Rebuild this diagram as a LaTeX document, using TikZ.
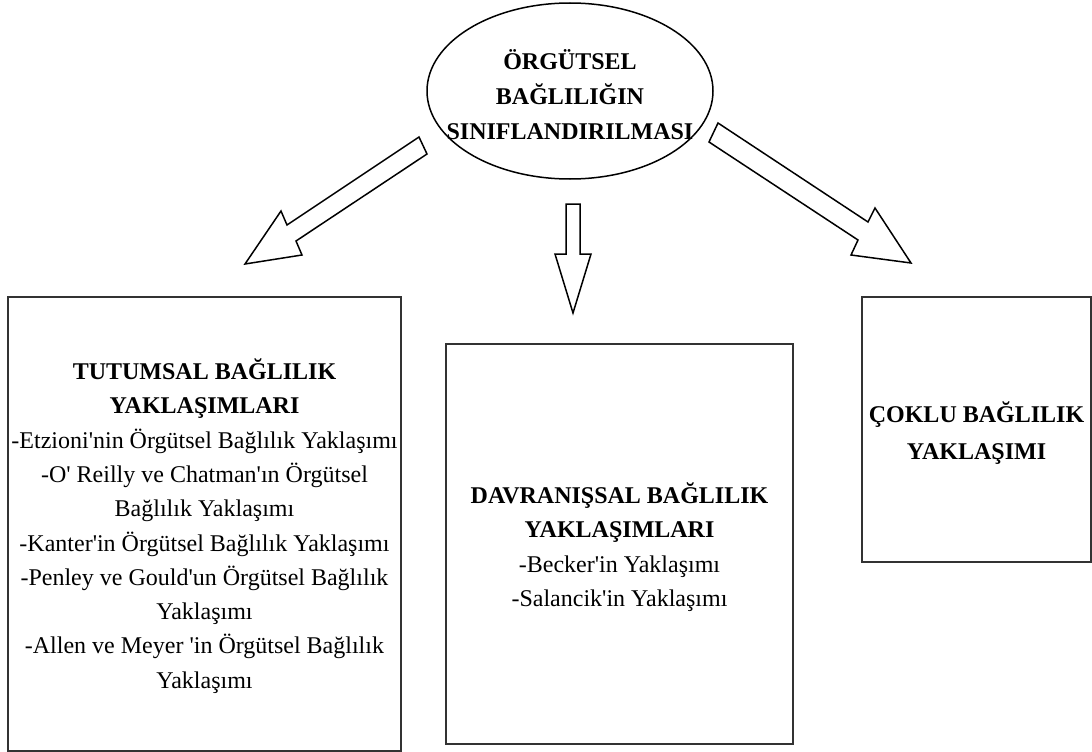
\documentclass[tikz,border=0pt]{standalone}
\usepackage{fontspec}
\setmainfont{Liberation Serif}
\usetikzlibrary{shapes.geometric}
\newcommand{\aps}{\textquotesingle}
\begin{document}
\begin{tikzpicture}[x=1pt,y=-1pt,
  panel/.style={draw=black!80, line width=2pt, inner sep=0pt},
  hollowarrow/.style={draw=black, line width=1.5pt, fill=white, line join=miter},
  body/.style={font=\fontsize{24}{34.3}\selectfont, align=center, inner sep=0pt},
  head/.style={font=\fontsize{24}{35}\selectfont\bfseries, align=center, inner sep=0pt}]
\useasboundingbox (0,0) rectangle (1092,752);

% root ellipse
\node[ellipse, draw=black, line width=1.5pt, minimum width=286pt, minimum height=176pt,
  inner sep=0pt] (root) at (570,91) {};
\node[head] (roottext) at (570,95) {ÖRGÜTSEL\\BAĞLILIĞIN\\SINIFLANDIRILMASI};

% three category boxes
\draw[panel] (8,297) rectangle (401,751);
\draw[panel] (446,344) rectangle (793,744);
\draw[panel] (862,297) rectangle (1091,562);

% block arrows from the root to the boxes
\draw[hollowarrow] (419,137) -- (287,225) -- (281,211) -- (245,264) -- (302,255) -- (296,241) -- (427,154) -- cycle;
\draw[hollowarrow] (566,204) -- (580,204) -- (580,254) -- (591,254) -- (573,313) -- (555,254) -- (566,254) -- cycle;
\draw[hollowarrow] (718,123) -- (868,222) -- (875,208) -- (911,263) -- (851,255) -- (858,240) -- (709,142) -- cycle;

% box contents
\node[body] (lefttext) at (204.5,526) {%
  {\bfseries TUTUMSAL BAĞLILIK}\\
  {\bfseries YAKLAŞIMLARI}\\
  -Etzioni\aps nin Örgütsel Bağlılık Yaklaşımı\\
  -O\aps{} Reilly ve Chatman\aps ın Örgütsel\\
  Bağlılık Yaklaşımı\\
  -Kanter\aps in Örgütsel Bağlılık Yaklaşımı\\
  -Penley ve Gould\aps un Örgütsel Bağlılık\\
  Yaklaşımı\\
  -Allen ve Meyer \aps in Örgütsel Bağlılık\\
  Yaklaşımı};
\node[body] (midtext) at (619.5,547) {%
  {\bfseries DAVRANIŞSAL BAĞLILIK}\\
  {\bfseries YAKLAŞIMLARI}\\
  -Becker\aps in Yaklaşımı\\
  -Salancik\aps in Yaklaşımı};
\node[head, font=\fontsize{24}{37}\selectfont\bfseries] (righttext) at (976.5,433) {ÇOKLU BAĞLILIK\\YAKLAŞIMI};
\end{tikzpicture}
\end{document}
